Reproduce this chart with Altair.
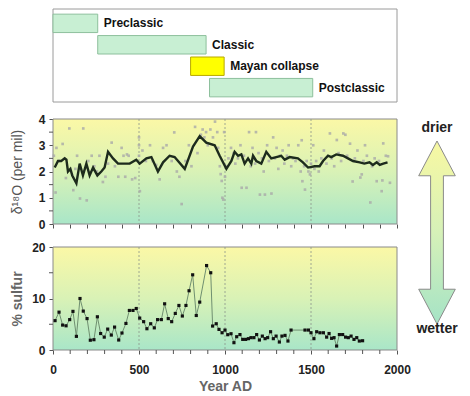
import altair as alt
import pandas as pd

FONT = "Liberation Sans"

# ---------------- data ----------------
phases = ["Preclassic", "Classic", "Mayan collapse", "Postclassic"]
phase_start = [0, 260, 800, 910]
phase_end = [260, 890, 995, 1510]
phase_fill = ["#c8efd3", "#c8efd3", "#ffff00", "#c8efd3"]
phase_stroke = ["#8dbf9c", "#8dbf9c", "#b8a800", "#8dbf9c"]

# smoothed d18O curve
o_year = [10, 29, 48, 68, 78, 87, 101, 112, 136, 155,
          174, 194, 213, 233, 258, 281, 300, 320, 349, 378,
          446, 484, 504, 543, 572, 610, 640, 678, 707, 766,
          814, 853, 891, 940, 969, 1008, 1037, 1056, 1076, 1095,
          1114, 1134, 1153, 1163, 1182, 1211, 1240, 1269, 1298, 1327,
          1347, 1376, 1424, 1453, 1483, 1521, 1550, 1570, 1599, 1618,
          1647, 1686, 1715, 1744, 1783, 1810, 1840, 1860, 1882, 1900,
          1920, 1945]
o_val = [2.15, 2.4, 2.4, 2.5, 2.45, 2.0, 2.1, 1.85, 1.55, 2.3,
         1.85, 2.3, 1.85, 2.15, 1.85, 2.0, 2.15, 2.75, 2.5, 2.3,
         2.3, 2.45, 2.3, 2.5, 2.55, 2.0, 2.35, 2.6, 2.55, 2.1,
         2.95, 3.35, 3.1, 3.0, 2.6, 2.1, 2.4, 2.75, 2.6, 2.65,
         2.3, 2.5, 2.3, 2.6, 2.4, 2.3, 2.75, 2.5, 2.55, 2.6,
         2.45, 2.55, 2.5, 2.35, 2.15, 2.2, 2.2, 2.4, 2.6, 2.55,
         2.65, 2.6, 2.5, 2.4, 2.35, 2.3, 2.35, 2.25, 2.35, 2.25,
         2.3, 2.35]

# raw d18O measurements
p_year = [5, 15, 20, 35, 56, 75, 95, 118, 130, 140,
          157, 176, 196, 205, 225, 240, 255, 270, 290, 305,
          320, 341, 360, 380, 399, 410, 420, 430, 440, 460,
          478, 500, 500, 500, 505, 520, 540, 564, 580, 600,
          620, 640, 660, 690, 705, 720, 735, 748, 770, 790,
          805, 826, 840, 860, 870, 880, 890, 900, 915, 930,
          942, 955, 960, 970, 975, 981, 985, 990, 995, 1000,
          1010, 1020, 1035, 1050, 1060, 1075, 1090, 1097, 1110, 1125,
          1140, 1150, 1160, 1175, 1180, 1195, 1203, 1215, 1225, 1232,
          1245, 1255, 1270, 1280, 1290, 1300, 1310, 1320, 1335, 1345,
          1360, 1370, 1385, 1395, 1410, 1426, 1440, 1446, 1450, 1460,
          1465, 1475, 1485, 1494, 1500, 1513, 1520, 1530, 1545, 1560,
          1575, 1590, 1610, 1620, 1635, 1650, 1660, 1675, 1688, 1700,
          1710, 1727, 1742, 1755, 1770, 1787, 1795, 1805, 1814, 1825,
          1845, 1855, 1870, 1882, 1895, 1911, 1915, 1920, 1935, 1948,
          1959]
p_val = [2.6, 1.2, 2.9, 2.4, 3.05, 1.75, 3.64, 1.29, 2.1, 2.6,
         0.97, 3.64, 0.9, 2.4, 2.6, 2.2, 2.0, 2.6, 1.6, 1.8,
         2.3, 3.1, 2.2, 1.8, 2.9, 2.6, 1.8, 2.65, 2.6, 1.7,
         1.75, 3.3, 3.0, 2.6, 1.25, 2.8, 2.4, 3.0, 2.4, 2.25,
         1.7, 2.9, 3.0, 2.4, 3.49, 2.0, 1.8, 0.76, 2.4, 3.0,
         2.2, 3.7, 2.7, 3.4, 3.6, 3.3, 3.5, 3.0, 3.6, 3.3,
         3.9, 3.5, 2.9, 2.2, 1.9, 1.64, 1.0, 0.93, 3.5, 1.8,
         2.2, 2.5, 2.9, 2.7, 2.3, 2.5, 3.0, 1.38, 2.6, 1.38,
         3.5, 2.2, 2.9, 2.3, 3.5, 2.7, 1.12, 2.5, 2.0, 1.12,
         3.0, 2.4, 1.16, 3.3, 2.5, 2.9, 2.1, 2.6, 2.8, 2.3,
         2.6, 3.0, 2.2, 2.5, 2.4, 3.0, 2.0, 3.19, 1.63, 2.2,
         1.31, 2.4, 2.0, 1.89, 2.3, 3.0, 2.1, 2.4, 2.0, 2.5,
         2.8, 2.3, 3.45, 2.5, 2.2, 3.2, 2.7, 2.4, 3.45, 3.4,
         2.6, 3.06, 1.62, 2.5, 2.8, 1.77, 1.89, 2.4, 3.0, 2.6,
         0.82, 2.2, 2.5, 1.63, 2.4, 1.25, 1.66, 3.07, 2.6, 2.58,
         1.57]

# % sulfur
s_year = [12, 35, 56, 76, 97, 116, 136, 157, 176, 198,
          217, 238, 258, 277, 298, 318, 339, 358, 382, 401,
          424, 444, 465, 484, 504, 527, 546, 568, 589, 608,
          630, 649, 670, 690, 711, 732, 752, 773, 791, 812,
          833, 853, 893, 917, 928, 949, 965, 983, 1000, 1016,
          1035, 1052, 1068, 1087, 1103, 1120, 1136, 1151, 1168, 1184,
          1200, 1217, 1233, 1248, 1265, 1281, 1297, 1316, 1331, 1349,
          1366, 1384, 1465, 1485, 1500, 1517, 1533, 1552, 1572, 1591,
          1605, 1620, 1634, 1649, 1665, 1684, 1701, 1717, 1733, 1750,
          1766, 1781, 1800]
s_val = [5.7, 7.35, 4.84, 4.7, 5.9, 7.5, 2.65, 10.0, 7.55, 6.1,
         1.9, 2.0, 6.45, 3.2, 2.5, 4.06, 2.9, 4.45, 1.94, 3.3,
         5.16, 7.68, 7.68, 8.06, 6.2, 5.5, 4.13, 5.1, 4.3, 5.9,
         5.9, 8.97, 6.1, 5.5, 7.1, 8.65, 6.6, 8.65, 11.5, 14.6,
         6.7, 9.3, 16.4, 15.0, 4.65, 5.1, 4.0, 3.35, 3.87, 2.97,
         3.16, 1.42, 2.58, 3.0, 2.06, 2.06, 2.2, 2.4, 2.4, 3.0,
         1.94, 2.7, 2.2, 2.4, 3.55, 2.2, 2.7, 1.55, 2.7, 2.84,
         1.74, 3.87, 3.87, 3.87, 3.35, 2.2, 3.55, 3.35, 3.35, 2.5,
         3.2, 2.26, 2.4, 0.77, 3.0, 3.0, 2.5, 2.4, 2.7, 2.06,
         2.4, 1.74, 1.8]

grid_years = [500, 1000, 1500]
x_all_ticks = list(range(0, 2001, 100))
x_label_ticks = [0, 500, 1000, 1500, 2000]
x_minor_ticks = [t for t in x_all_ticks if t not in x_label_ticks]
o_label_ticks = [0, 1, 2, 3, 4]
o_minor_ticks = [0.5, 1.5, 2.5, 3.5]
s_label_ticks = [0, 10, 20]
s_minor_ticks = [5, 15]
arrow_labels = ["drier", "wetter"]

# ---------------- layout constants ----------------
W = 344
H_TL = 93
H_O = 105
H_S = 103
TICK = 4
TICK_COLOR = "#555"

x_scale = alt.Scale(domain=[0, 2000], nice=False, zero=False)
one = pd.DataFrame({"a": [0]})

bg_grad = alt.LinearGradient(
    gradient="linear",
    stops=[alt.GradientStop(color="#fbf8a6", offset=0),
           alt.GradientStop(color="#d9f2b6", offset=0.5),
           alt.GradientStop(color="#a9e6c8", offset=1)],
    x1=0, x2=0, y1=0, y2=1)

arrow_grad = alt.LinearGradient(
    gradient="linear",
    stops=[alt.GradientStop(color="#f8f8a2", offset=0),
           alt.GradientStop(color="#d6f1b8", offset=0.5),
           alt.GradientStop(color="#a5e3c6", offset=1)],
    x1=0, x2=0, y1=0, y2=1)


def frame(h, fill, stroke):
    return alt.Chart(one).mark_rect(fill=fill, stroke=stroke, strokeWidth=1).encode(
        x=alt.value(0), x2=alt.value(W), y=alt.value(0), y2=alt.value(h))


def minor_x(values, h):
    return alt.Chart(pd.DataFrame({"t": values})).mark_rule(
        stroke=TICK_COLOR, strokeWidth=1).encode(
        x=alt.X("t:Q", scale=x_scale), y=alt.value(h), y2=alt.value(h + TICK))


def minor_y(values, scale):
    return alt.Chart(pd.DataFrame({"t": values})).mark_rule(
        stroke=TICK_COLOR, strokeWidth=1).encode(
        y=alt.Y("t:Q", scale=scale), x=alt.value(-TICK), x2=alt.value(0))


# ---------------- timeline panel ----------------
tl_df = pd.DataFrame({"phase": phases, "start": phase_start, "end": phase_end,
                      "fill": phase_fill, "stroke": phase_stroke})
y_tl = alt.Y("phase:N", sort=phases,
             scale=alt.Scale(paddingInner=0.14, paddingOuter=0.24),
             axis=alt.Axis(labels=False, ticks=False, domain=False, grid=False,
                           title="d", titleColor="transparent", titleFontSize=14,
                           titlePadding=2, minExtent=27, maxExtent=27))
tl_bars = alt.Chart(tl_df).mark_bar(strokeWidth=1).encode(
    x=alt.X("start:Q", scale=x_scale, axis=None), x2="end:Q", y=y_tl,
    fill=alt.Fill("fill:N", scale=None), stroke=alt.Stroke("stroke:N", scale=None))
tl_text = alt.Chart(tl_df).mark_text(align="left", dx=6, font=FONT, fontSize=12,
                                     fontWeight="bold", color="#111").encode(
    x=alt.X("end:Q", scale=x_scale, axis=None), y=y_tl, text="phase:N")
timeline = alt.layer(frame(H_TL, "white", "#9a9a9a"), tl_bars, tl_text).properties(
    width=W, height=H_TL)

# ---------------- d18O panel ----------------
o_line_df = pd.DataFrame({"yr": o_year, "v": o_val})
o_pts_df = pd.DataFrame({"yr": p_year, "v": p_val})
grid_df = pd.DataFrame({"yr": grid_years})

o_x_axis = alt.Axis(values=x_all_ticks, labels=False, tickSize=TICK, domain=False,
                    grid=False, title=None, minExtent=7, maxExtent=7)
o_y_axis = alt.Axis(values=o_label_ticks, tickCount=5, labelOverlap=False,
                    tickSize=TICK, labelPadding=4, domain=False, grid=False,
                    title="δ¹⁸O (per mil)", titleFontSize=14, titleFontWeight="normal",
                    titleColor="#555", titlePadding=2, minExtent=27, maxExtent=27)
o_scale = alt.Scale(domain=[0, 4], nice=False)

o_grid = alt.Chart(grid_df).mark_rule(stroke="#8a968a", strokeDash=[2, 2], strokeWidth=0.8).encode(
    x=alt.X("yr:Q", scale=x_scale, axis=o_x_axis))
o_line = alt.Chart(o_line_df).mark_line(color="#1d2b1d", strokeWidth=2.4).encode(
    x=alt.X("yr:Q", scale=x_scale, axis=o_x_axis),
    y=alt.Y("v:Q", scale=o_scale, axis=o_y_axis))
o_pts = alt.Chart(o_pts_df).mark_square(size=7, color="#a9a9a9", opacity=0.8).encode(
    x=alt.X("yr:Q", scale=x_scale, axis=o_x_axis), y=alt.Y("v:Q", scale=o_scale, axis=o_y_axis))
o_panel = alt.layer(frame(H_O, bg_grad, "#8a8a8a"), o_grid, o_pts, o_line,
                    minor_y(o_minor_ticks, o_scale)).properties(width=W, height=H_O)

# ---------------- sulfur panel ----------------
s_df = pd.DataFrame({"yr": s_year, "v": s_val})
s_scale = alt.Scale(domain=[0, 20], nice=False)
s_x_axis = alt.Axis(values=x_label_ticks, format="d",
                    labelFlush=False, labelOverlap=False, tickSize=TICK, labelPadding=10,
                    domain=False, grid=False, title="Year AD", titleFontSize=14,
                    titleFontWeight="bold", titleColor="#666", titlePadding=4)
s_y_axis = alt.Axis(values=s_label_ticks, tickCount=3, labelOverlap=False,
                    tickSize=TICK, labelPadding=4, domain=False, grid=False,
                    title="% sulfur", titleFontSize=14, titleFontWeight="bold",
                    titleColor="#666", titlePadding=2, minExtent=27, maxExtent=27)
s_grid = alt.Chart(grid_df).mark_rule(stroke="#8a968a", strokeDash=[2, 2], strokeWidth=0.8).encode(
    x=alt.X("yr:Q", scale=x_scale, axis=s_x_axis))
s_line = alt.Chart(s_df).mark_line(color="#6f8f70", strokeWidth=1).encode(
    x=alt.X("yr:Q", scale=x_scale, axis=s_x_axis),
    y=alt.Y("v:Q", scale=s_scale, axis=s_y_axis))
s_pts = alt.Chart(s_df).mark_square(size=10, color="#111", opacity=1).encode(
    x=alt.X("yr:Q", scale=x_scale, axis=s_x_axis), y=alt.Y("v:Q", scale=s_scale, axis=s_y_axis))
s_panel = alt.layer(frame(H_S, bg_grad, "#8a8a8a"), s_grid, s_line, s_pts,
                    minor_x(x_minor_ticks, H_S), minor_y(s_minor_ticks, s_scale)).properties(
    width=W, height=H_S)

# ---------------- arrow panel ----------------
arrow_path = ("M0,-1L0.2,-0.62L0.07,-0.62L0.07,0.62L0.2,0.62L0,1"
              "L-0.2,0.62L-0.07,0.62L-0.07,-0.62L-0.2,-0.62Z")
arrow = alt.Chart(one).mark_point(shape=arrow_path, size=33489, filled=True,
                                  fill=arrow_grad, stroke="#8a8a8a", strokeWidth=1,
                                  opacity=1, fillOpacity=1).encode(
    x=alt.value(22), y=alt.value(223.5))
t_dry = alt.Chart(pd.DataFrame({"t": [arrow_labels[0]]})).mark_text(
    font=FONT, fontSize=14, fontWeight="bold", color="#222").encode(
    x=alt.value(22), y=alt.value(119), text="t:N")
t_wet = alt.Chart(pd.DataFrame({"t": [arrow_labels[1]]})).mark_text(
    font=FONT, fontSize=14, fontWeight="bold", color="#222").encode(
    x=alt.value(22), y=alt.value(320), text="t:N")
arrow_panel = alt.layer(arrow, t_dry, t_wet).properties(width=44, height=330)

left = alt.vconcat(timeline, o_panel, s_panel, spacing=10)
chart = alt.hconcat(left, arrow_panel, spacing=4).properties(
    padding={"left": 2, "top": 0, "right": 0, "bottom": 4}
).configure_view(stroke=None).configure_axis(
    labelFont=FONT, titleFont=FONT, labelFontWeight="bold", labelFontSize=12,
    labelColor="#222", tickColor=TICK_COLOR, labelOverlap=False
)

chart.save("out.html", embed_options={"renderer": "svg", "actions": False})
